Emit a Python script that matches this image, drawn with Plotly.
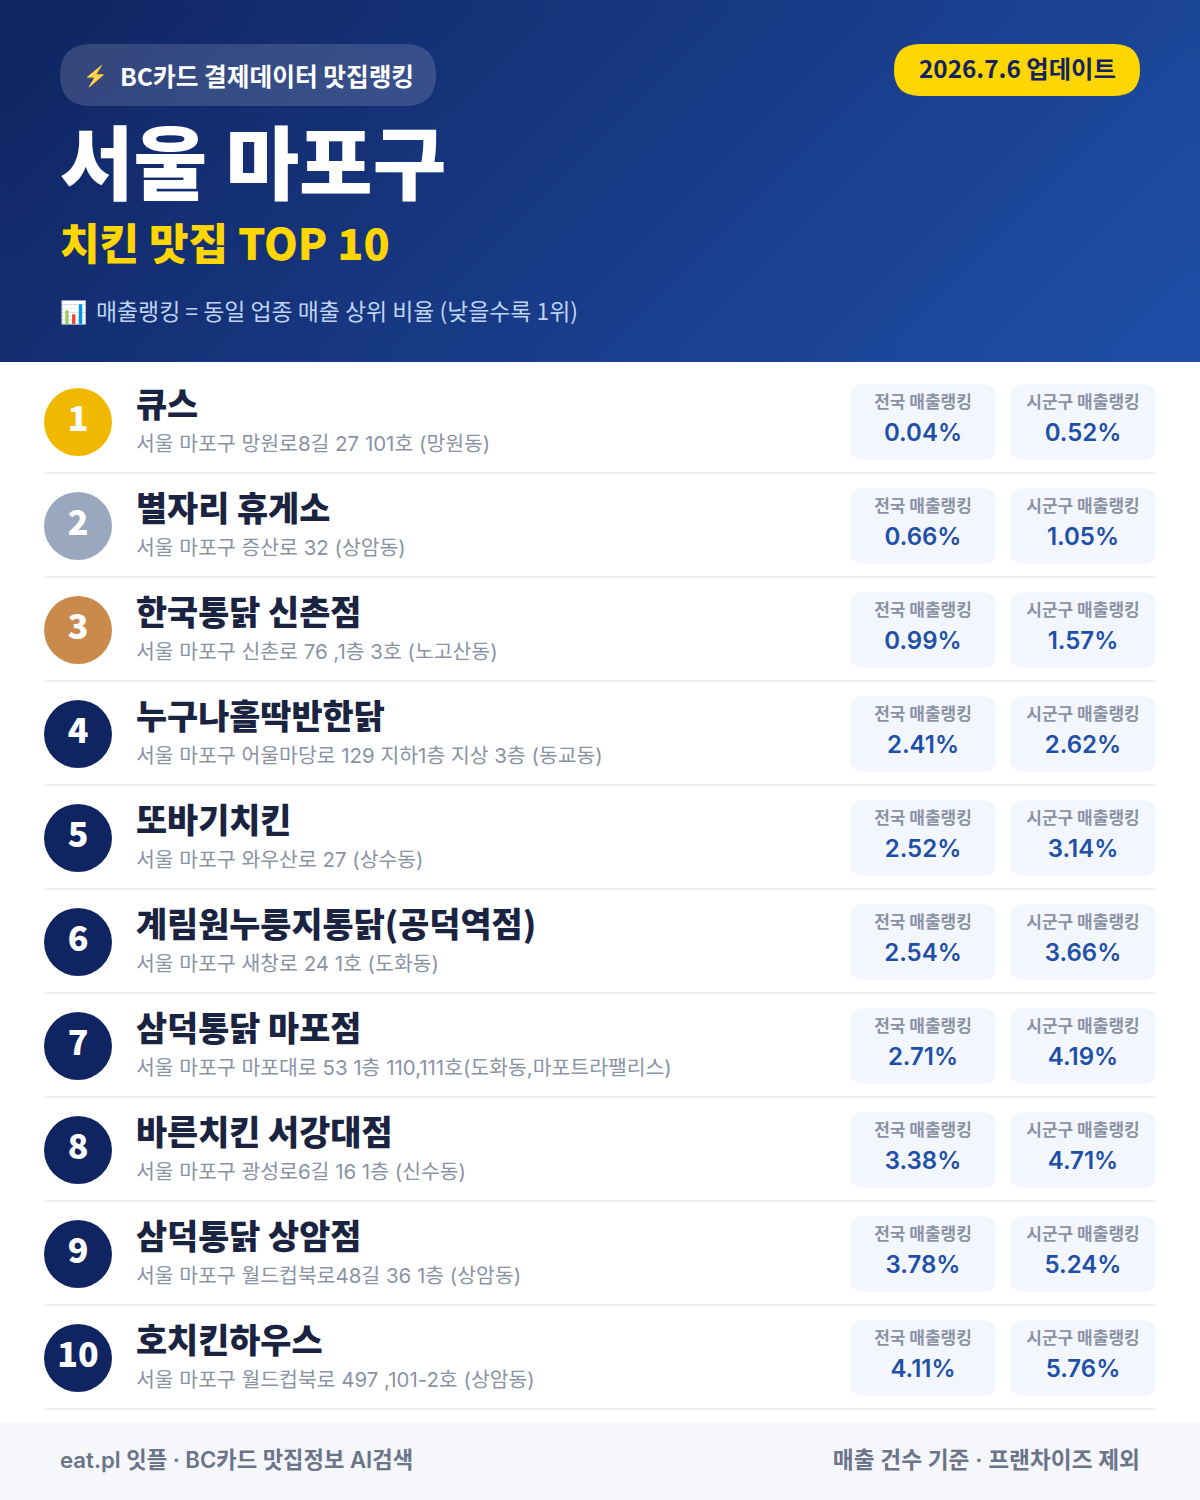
import plotly.graph_objects as go

FONT = "Noto Sans CJK KR"
FONT_NUM = "Inter, Noto Sans CJK KR"

ranks = ["1", "2", "3", "4", "5", "6", "7", "8", "9", "10"]
names = ["큐스", "별자리 휴게소", "한국통닭 신촌점", "누구나홀딱반한닭", "또바기치킨",
         "계림원누룽지통닭(공덕역점)", "삼덕통닭 마포점", "바른치킨 서강대점", "삼덕통닭 상암점", "호치킨하우스"]
addresses = ["서울 마포구 망원로8길 27 101호 (망원동)",
             "서울 마포구 증산로 32 (상암동)",
             "서울 마포구 신촌로 76 ,1층 3호 (노고산동)",
             "서울 마포구 어울마당로 129 지하1층 지상 3층 (동교동)",
             "서울 마포구 와우산로 27 (상수동)",
             "서울 마포구 새창로 24 1호 (도화동)",
             "서울 마포구 마포대로 53 1층 110,111호(도화동,마포트라팰리스)",
             "서울 마포구 광성로6길 16 1층 (신수동)",
             "서울 마포구 월드컵북로48길 36 1층 (상암동)",
             "서울 마포구 월드컵북로 497 ,101-2호 (상암동)"]
national = ["0.04%", "0.66%", "0.99%", "2.41%", "2.52%", "2.54%", "2.71%", "3.38%", "3.78%", "4.11%"]
district = ["0.52%", "1.05%", "1.57%", "2.62%", "3.14%", "3.66%", "4.19%", "4.71%", "5.24%", "5.76%"]
badge_colors = ["#F0B800", "#9AA8BF", "#C98A4B"] + ["#0F2460"] * 7

row_gap = 104
rows = list(range(len(names)))


def rounded(x0, y0, x1, y1, r):
    return (f"M {x0+r} {y0} L {x1-r} {y0} Q {x1} {y0} {x1} {y0+r} L {x1} {y1-r} Q {x1} {y1} {x1-r} {y1} "
            f"L {x0+r} {y1} Q {x0} {y1} {x0} {y1-r} L {x0} {y0+r} Q {x0} {y0} {x0+r} {y0} Z")


def label(fig, x, y, text, size, color, weight=400, pos="middle right", family=FONT):
    fig.add_trace(go.Scatter(
        x=x, y=y, text=text, mode="text", textposition=pos, hoverinfo="skip",
        textfont=dict(family=family, size=size, color=color, weight=weight),
    ))


fig = go.Figure()

# header gradient, 135deg
grad_x = [12.5 + 25 * j for j in range(48)]
grad_y = [(k + 0.5) * 362 / 14 for k in range(14)]
grad_z = [[(x + y) / 1562 for x in grad_x] for y in grad_y]
fig.add_trace(go.Heatmap(
    x=grad_x, y=grad_y, z=grad_z, zsmooth="best", showscale=False, hoverinfo="skip",
    zmin=0, zmax=1, colorscale=[[0, "#0F2460"], [0.6, "#1A3E8C"], [1, "#1E50A8"]],
))

shapes = [
    dict(type="path", path=rounded(60, 44, 436, 106, 31), fillcolor="rgba(255,255,255,0.15)", line_width=0, layer="above"),
    dict(type="path", path=rounded(894, 44, 1140, 96, 26), fillcolor="#FFD600", line_width=0, layer="above"),
    dict(type="rect", x0=0, x1=1200, y0=1422, y1=1500, fillcolor="#F5F7FB", line_width=0, layer="below"),
]
for i in rows:
    top = 384 + row_gap * i
    shapes.append(dict(type="path", path=rounded(850, top, 996, top + 76, 14), fillcolor="#F3F6FC", line_width=0, layer="below"))
    shapes.append(dict(type="path", path=rounded(1010, top, 1156, top + 76, 14), fillcolor="#F3F6FC", line_width=0, layer="below"))
    shapes.append(dict(type="rect", x0=44, x1=1156, y0=472 + row_gap * i, y1=474 + row_gap * i,
                       fillcolor="#EEF0F4", line_width=0, layer="below"))

label(fig, [83], [78], ["⚡"], 20, "#FFD600")
label(fig, [120], [80], ["BC카드 결제데이터 맛집랭킹"], 24.7, "#FFFFFF", 700)
label(fig, [60], [173], ["서울 마포구"], 80, "#FFFFFF", 900)
label(fig, [60], [249], ["치킨 맛집 TOP 10"], 43, "#FFD600", 800)
label(fig, [60], [314], ["📊"], 22, "#FFFFFF")
label(fig, [96], [314], ["매출랭킹 = 동일 업종 매출 상위 비율 (낮을수록 1위)"], 22.9, "#BFD4F5", 400)

badge_y = [422 + row_gap * i for i in rows]
fig.add_trace(go.Scatter(
    x=[78] * len(rows), y=badge_y, mode="markers", hoverinfo="skip",
    marker=dict(size=68, color=badge_colors, line_width=0),
))
label(fig, [78] * len(rows), [422 + row_gap * i for i in rows], ranks, 34, "#FFFFFF", 800, "middle center")
label(fig, [136] * len(rows), [409 + row_gap * i for i in rows], names, 33.8, "#1A2340", 900)
label(fig, [136] * len(rows), [446 + row_gap * i for i in rows], addresses, 20.45, "#8A93A5", 400, family=FONT_NUM)
label(fig, [923] * len(rows), [404 + row_gap * i for i in rows], ["전국 매출랭킹"] * len(rows), 17, "#8A93A5", 600, "middle center")
label(fig, [1083] * len(rows), [404 + row_gap * i for i in rows], ["시군구 매출랭킹"] * len(rows), 17, "#8A93A5", 600, "middle center")
label(fig, [923] * len(rows), [435 + row_gap * i for i in rows], national, 24, "#1E50A8", 600, "middle center", family=FONT_NUM)
label(fig, [1083] * len(rows), [435 + row_gap * i for i in rows], district, 24, "#1E50A8", 600, "middle center", family=FONT_NUM)

label(fig, [60], [1462], ["eat.pl 잇플 · BC카드 맛집정보 AI검색"], 22.2, "#6B7488", 600, family=FONT_NUM)
label(fig, [1140], [1462], ["매출 건수 기준 · 프랜차이즈 제외"], 22.7, "#6B7488", 600, "middle left", family=FONT_NUM)

fig.update_layout(
    width=1200, height=1500, margin=dict(l=0, r=0, t=0, b=0), showlegend=False,
    paper_bgcolor="#FFFFFF", plot_bgcolor="#FFFFFF", shapes=shapes,
    xaxis=dict(range=[0, 1200], visible=False, fixedrange=True),
    yaxis=dict(range=[1500, 0], visible=False, fixedrange=True),
    annotations=[dict(x=1017, y=67, text="2026.7.6 업데이트", showarrow=False, xanchor="center", yanchor="middle",
                      font=dict(family=FONT, size=24.3, color="#0F2460", weight=700))],
)

fig.write_html("out.html", config=dict(displayModeBar=False),
               post_script="document.body.style.margin='0';")
